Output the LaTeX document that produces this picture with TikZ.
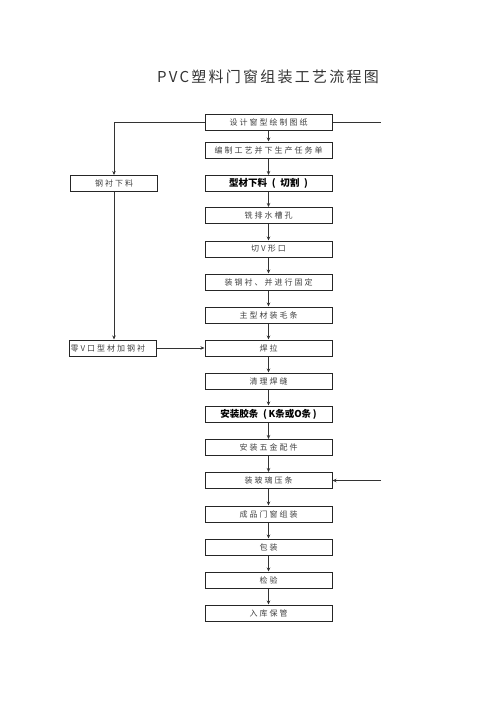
\documentclass[tikz,border=0pt]{standalone}
\usepackage{fontspec}
\newfontfamily\cjk{Noto Sans CJK SC}
\newfontfamily\cjkls{Noto Sans CJK SC}[LetterSpace=25]
\newfontfamily\cjktitle{Noto Sans CJK SC}[LetterSpace=15]
\usetikzlibrary{arrows.meta}
\begin{document}
\begin{tikzpicture}[x=1pt,y=-1pt,
  box/.style={draw=black!85, line width=1.0pt, minimum width=127pt, minimum height=16pt,
    inner sep=0pt, font=\cjkls\fontsize{8}{9}\selectfont, text=black!75},
  boldbox/.style={box, font=\cjk\bfseries\fontsize{9.5}{10}\selectfont, text=black},
  lbox/.style={box, minimum width=87pt},
  conn/.style={draw=black!80, line width=0.7pt},
  arr/.style={conn, -{Stealth[length=4pt,width=3.5pt]}}
]
\useasboundingbox (0,0) rectangle (500,707);
\node[font=\cjktitle\fontsize{15}{17}\selectfont, text=black!80] (title) at (268,77) {PVC塑料门窗组装工艺流程图};

\node[box] (b1) at (268.5,122) {设计窗型绘制图纸};
\node[box] (b2) at (268.5,150) {编制工艺并下生产任务单};
\node[boldbox] (b3) at (268.5,183.5) {型材下料\enspace{}(\enspace{}切割\enspace{})};
\node[box] (b4) at (268.5,215.5) {铣排水槽孔};
\node[box] (b5) at (268.5,249) {切V形口};
\node[box] (b6) at (268.5,282) {装钢衬、并进行固定};
\node[box] (b7) at (268.5,315) {主型材装毛条};
\node[box] (b8) at (268.5,348) {焊拉};
\node[box] (b9) at (268.5,381) {清理焊缝};
\node[boldbox] (b10) at (268.5,414) {安装胶条\enspace{}(\,K条或O条\,)};
\node[box] (b11) at (268.5,447.5) {安装五金配件};
\node[box] (b12) at (268.5,480.5) {装玻璃压条};
\node[box] (b13) at (268.5,514) {成品门窗组装};
\node[box] (b14) at (268.5,547) {包装};
\node[box] (b15) at (268.5,580) {检验};
\node[box] (b16) at (268.5,613) {入库保管};

\node[lbox] (l1) at (114,183.5) {钢衬下料};
\node[lbox, align=left, text width=85pt] (l2) at (113,348) {零V口型材加钢衬};

\foreach \a/\b in {b1/b2,b2/b3,b3/b4,b4/b5,b5/b6,b6/b7,b7/b8,b8/b9,b9/b10,b10/b11,b11/b12,b12/b13,b13/b14,b14/b15,b15/b16}
  \draw[arr] (\a.south) -- (\b.north);

\draw[arr] (b1.west) -| (l1.north);
\draw[arr] (l1.south) -- (l1.south |- l2.north);
\draw[arr] (l2.east) -- (b8.west);
\coordinate (r1) at (381,122);
\coordinate (r2) at (381,480.5);
\draw[conn] (b1.east) -- (r1);
\draw[arr] (r2) -- (b12.east);
\end{tikzpicture}
\end{document}
